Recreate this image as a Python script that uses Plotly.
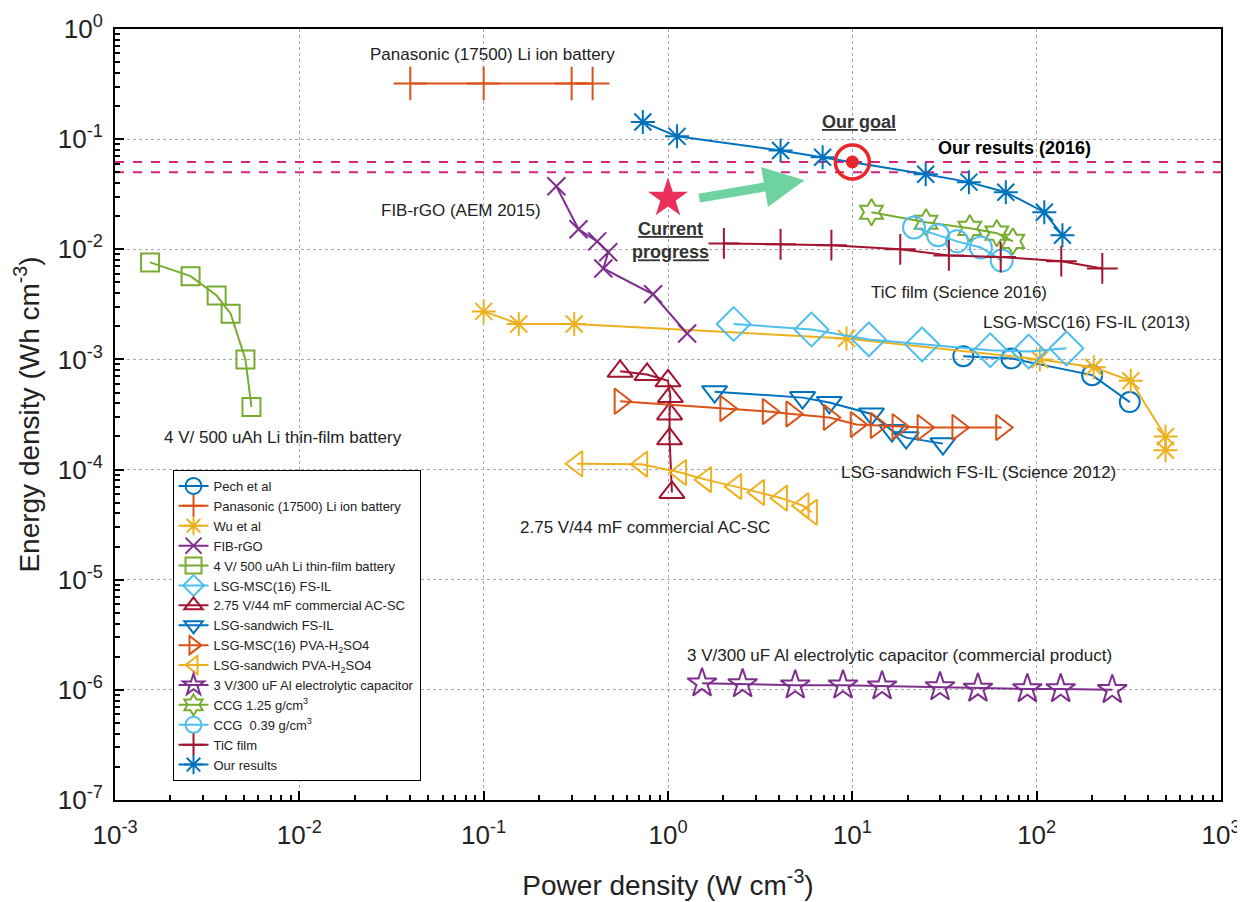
import plotly.graph_objects as go
import numpy as np

# ---------------- data (Power density W/cm3, Energy density Wh/cm3) ----------------
pech_x = [40, 73, 200, 320]
pech_y = [1.07e-3, 1.02e-3, 7.2e-4, 4.1e-4]

pana_x = [0.04, 0.1, 0.30, 0.39]
pana_y = [0.32, 0.32, 0.32, 0.32]

wu_x = [0.1, 0.155, 0.31, 9.3, 104, 204, 324, 500, 500]
wu_y = [2.73e-3, 2.1e-3, 2.1e-3, 1.55e-3, 1.0e-3, 8.5e-4, 6.4e-4, 2.0e-4, 1.5e-4]

fib_x = [0.248, 0.327, 0.413, 0.474, 0.446, 0.83, 1.27]
fib_y = [0.0374, 0.0152, 0.0118, 0.0094, 0.0067, 0.0039, 0.00172]

li_x = [0.00155, 0.00257, 0.00356, 0.00424, 0.0051, 0.0055]
li_y = [0.0076, 0.0057, 0.0038, 0.0026, 0.0010, 0.00037]

msc_il_x = [2.27, 6.0, 12.3, 23.9, 56, 90.5, 145]
msc_il_y = [2.1e-3, 1.87e-3, 1.52e-3, 1.37e-3, 1.21e-3, 1.18e-3, 1.26e-3]

acsc_x = [0.55, 0.77, 1.0, 1.03, 1.02, 1.02, 1.05]
acsc_y = [7.8e-4, 7.3e-4, 6.4e-4, 4.6e-4, 3.2e-4, 1.9e-4, 6.2e-5]

sand_il_x = [1.79, 5.37, 7.5, 12.7, 16.4, 19.6, 31]
sand_il_y = [5.1e-4, 4.5e-4, 4.07e-4, 3.2e-4, 2.26e-4, 1.95e-4, 1.72e-4]

msc_pva_x = [0.55, 2.06, 3.5, 4.7, 7.5, 10.5, 13.5, 17.7, 24.2, 37.4, 64.6]
msc_pva_y = [4.17e-4, 3.59e-4, 3.37e-4, 3.2e-4, 2.97e-4, 2.57e-4, 2.51e-4, 2.45e-4, 2.41e-4, 2.41e-4, 2.41e-4]

sand_pva_x = [0.32, 0.72, 1.17, 1.6, 2.33, 3.1, 4.13, 5.4, 6.0]
sand_pva_y = [1.13e-4, 1.12e-4, 9.4e-5, 8.1e-5, 7.0e-5, 6.2e-5, 5.5e-5, 4.7e-5, 4.1e-5]

alcap_x = [1.53, 2.54, 4.9, 8.9, 14.5, 29.9, 48, 89, 135, 257]
alcap_y = [1.15e-6, 1.13e-6, 1.1e-6, 1.1e-6, 1.08e-6, 1.06e-6, 1.03e-6, 1.02e-6, 1.02e-6, 1.0e-6]

ccg125_x = [12.7, 25.1, 43.4, 60.8, 74.2]
ccg125_y = [0.0217, 0.0176, 0.0155, 0.0140, 0.0118]

ccg039_x = [21.6, 29.2, 37, 49.8, 64.6]
ccg039_y = [0.0158, 0.0134, 0.0118, 0.0104, 0.0079]

tic_x = [2.01, 4.08, 7.7, 18.2, 33.4, 63.8, 136, 227]
tic_y = [0.0113, 0.0111, 0.0109, 0.0100, 0.0088, 0.0085, 0.0078, 0.0067]

ours_x = [0.73, 1.12, 4.08, 6.9, 25, 42.9, 68, 110, 138]
ours_y = [0.143, 0.106, 0.079, 0.0686, 0.048, 0.0407, 0.033, 0.0217, 0.0134]

goal_x = [10]
goal_y = [0.062]
progress_x = [1.0]
progress_y = [0.029]
target_lines_y = [0.062, 0.050]
x_span = [1e-3, 1e3]

x_tick_vals = [1e-3, 1e-2, 1e-1, 1e0, 1e1, 1e2, 1e3]
x_tick_text = ["10<sup>-3</sup>", "10<sup>-2</sup>", "10<sup>-1</sup>", "10<sup>0</sup>",
               "10<sup>1</sup>", "10<sup>2</sup>", "10<sup>3</sup>"]
y_tick_vals = [1e-7, 1e-6, 1e-5, 1e-4, 1e-3, 1e-2, 1e-1, 1e0]
y_tick_text = ["10<sup>-7</sup>", "10<sup>-6</sup>", "10<sup>-5</sup>", "10<sup>-4</sup>",
               "10<sup>-3</sup>", "10<sup>-2</sup>", "10<sup>-1</sup>", "10<sup>0</sup>"]

# ---------------- colours ----------------
C_BLUE = "#0072BD"
C_ORANGE = "#D95319"
C_YELLOW = "#EDB120"
C_PURPLE = "#7E2F8E"
C_GREEN = "#77AC30"
C_CYAN = "#4DBEEE"
C_RED = "#A2142F"

fig = go.Figure()

# target dashed lines
for yy in target_lines_y:
    fig.add_trace(go.Scatter(x=x_span, y=[yy, yy], mode="lines", showlegend=False,
                             line=dict(color="#D6247A", width=2, dash="dash"), hoverinfo="skip"))

series = [
    ("Pech et al", pech_x, pech_y, C_BLUE, "circle-open", 20),
    ("Panasonic (17500) Li ion battery", pana_x, pana_y, C_ORANGE, "cross-thin-open", 24),
    ("Wu et al", wu_x, wu_y, C_YELLOW, "asterisk-open", 20),
    ("FIB-rGO", fib_x, fib_y, C_PURPLE, "x-thin-open", 18),
    ("4 V/ 500 uAh Li thin-film battery", li_x, li_y, C_GREEN, "square-open", 18),
    ("LSG-MSC(16) FS-IL", msc_il_x, msc_il_y, C_CYAN, "diamond-open", 26),
    ("2.75 V/44 mF commercial AC-SC", acsc_x, acsc_y, C_RED, "triangle-up-open", 22),
    ("LSG-sandwich FS-IL", sand_il_x, sand_il_y, C_BLUE, "triangle-down-open", 22),
    ("LSG-MSC(16) PVA-H<sub>2</sub>SO4", msc_pva_x, msc_pva_y, C_ORANGE, "triangle-right-open", 22),
    ("LSG-sandwich PVA-H<sub>2</sub>SO4", sand_pva_x, sand_pva_y, C_YELLOW, "triangle-left-open", 22),
    ("3 V/300 uF Al electrolytic capacitor", alcap_x, alcap_y, C_PURPLE, "star-open", 22),
    ("CCG 1.25 g/cm<sup>3</sup>", ccg125_x, ccg125_y, C_GREEN, "hexagram-open", 20),
    ("CCG  0.39 g/cm<sup>3</sup>", ccg039_x, ccg039_y, C_CYAN, "circle-open", 22),
    ("TiC film", tic_x, tic_y, C_RED, "cross-thin-open", 22),
    ("Our results", ours_x, ours_y, C_BLUE, "asterisk-open", 20),
]

for name, xs, ys, col, sym, sz in series:
    fig.add_trace(go.Scatter(
        x=xs, y=ys, name=name, mode="lines+markers",
        line=dict(color=col, width=2),
        marker=dict(symbol=sym, size=sz, color=col, line=dict(color=col, width=2)),
    ))

# goal target and current progress
fig.add_trace(go.Scatter(x=goal_x, y=goal_y, mode="markers", showlegend=False,
                         marker=dict(symbol="circle-open", size=34, color="#E8262B",
                                     line=dict(color="#E8262B", width=3.5))))
fig.add_trace(go.Scatter(x=goal_x, y=goal_y, mode="markers", showlegend=False,
                         marker=dict(symbol="circle", size=13, color="#E8262B")))
fig.add_trace(go.Scatter(x=progress_x, y=progress_y, mode="markers", showlegend=False,
                         marker=dict(symbol="star", size=30, color="#E8305A",
                                     line=dict(width=0))))

lg = np.log10
annos = []
def txt(x, y, t, size=17, color="#222222"):
    annos.append(dict(x=x, y=y, xref="x", yref="y", text=t, showarrow=False,
                      font=dict(size=size, color=color, family="Liberation Sans, Arial"),
                      xanchor="center", yanchor="middle"))

txt(-0.951, -0.236, "Panasonic (17500) Li ion battery")
txt(1.038, -0.845, "<b><u>Our goal</u></b>", 18, "#333333")
txt(1.881, -1.082, "<b>Our results (2016)</b>", 18, "#000000")
txt(-1.124, -1.645, "FIB-rGO (AEM 2015)")
txt(0.011, -1.918, "<b><u>Current</u></b><br><b><u>progress</u></b>", 18, "#333333")
txt(1.578, -2.39, "TiC film (Science 2016)")
txt(2.27, -2.664, "LSG-MSC(16) FS-IL (2013)")
txt(-2.086, -3.709, "4 V/ 500 uAh Li thin-film battery")
txt(1.686, -4.027, "LSG-sandwich FS-IL (Science 2012)")
txt(-0.124, -4.527, "2.75 V/44 mF commercial AC-SC")
txt(1.254, -5.69, "3 V/300 uF Al electrolytic capacitor (commercial product)")

# green arrow
annos.append(dict(x=lg(5.5), y=lg(0.0424), ax=lg(1.45), ay=lg(0.0290),
                  xref="x", yref="y", axref="x", ayref="y", text="",
                  showarrow=True, arrowhead=2, arrowsize=0.9, arrowwidth=9,
                  arrowcolor="#6ED3A0", standoff=0, startstandoff=0))

axis_common = dict(
    type="log", showline=True, linecolor="black", linewidth=2, mirror=True,
    ticks="inside", ticklen=9, tickwidth=1.5, tickcolor="black",
    showgrid=True, gridcolor="#a8a8a8", gridwidth=1, griddash="dot",
    zeroline=False, tickmode="array", automargin=False,
    tickfont=dict(family="Liberation Sans Narrow, Liberation Sans, Arial", size=26, color="#222222"),
    minor=dict(ticks="inside", ticklen=5, tickwidth=1.5, tickcolor="black", dtick="D1", showgrid=False),
)

fig.update_xaxes(**axis_common, range=[-3, 3], tickvals=x_tick_vals, ticktext=x_tick_text,
                 ticklabelstandoff=11,
                 title=dict(text="Power density (W cm<sup>-3</sup>)", standoff=26,
                            font=dict(family="Liberation Sans Narrow, Liberation Sans, Arial", size=28, color="#222222")))
fig.update_yaxes(**axis_common, range=[-7, 0], tickvals=y_tick_vals, ticktext=y_tick_text,
                 ticklabelstandoff=5,
                 title=dict(text="Energy density (Wh cm<sup>-3</sup>)", standoff=10,
                            font=dict(family="Liberation Sans Narrow, Liberation Sans, Arial", size=28, color="#222222")))

# page adds an 8px body margin, so the figure is sized/offset to compensate
fig.update_layout(
    width=1237, height=894,
    margin=dict(l=107, r=24, t=21, b=102),
    paper_bgcolor="white", plot_bgcolor="white",
    annotations=annos,
    legend=dict(x=0.052, y=0.428, xanchor="left", yanchor="top",
                bgcolor="white", bordercolor="black", borderwidth=1,
                font=dict(family="Liberation Sans, Arial", size=13, color="#222222"),
                tracegroupgap=0, itemwidth=30),
    showlegend=True,
)

fig.write_html("out.html")
